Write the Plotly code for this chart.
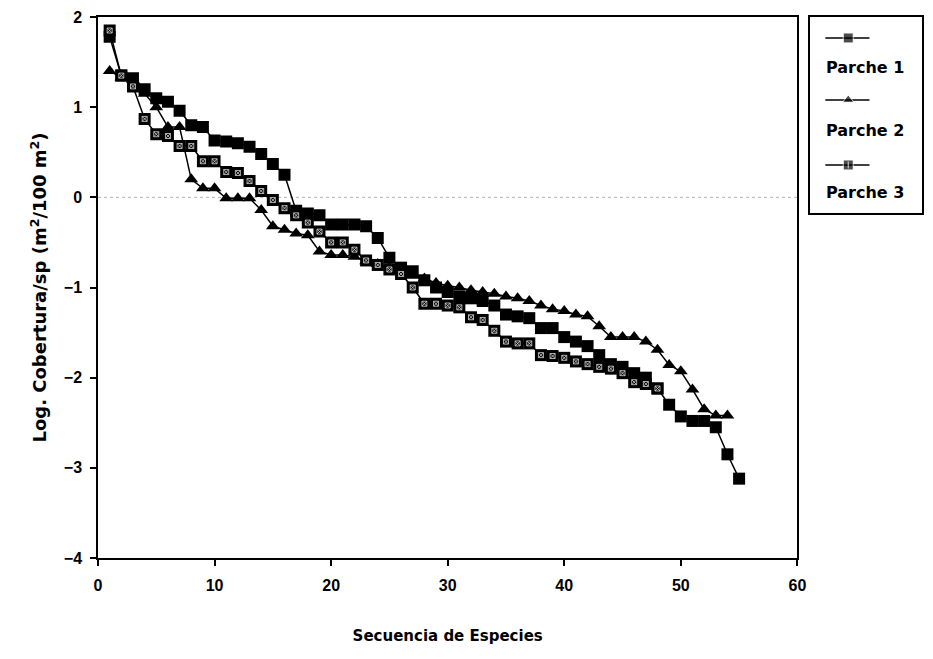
import plotly.graph_objects as go

# Species rank sequence and log cover per species for each patch
parche1_x = list(range(1, 56))
parche1_y = [1.78, 1.35, 1.32, 1.20, 1.10, 1.06, 0.96, 0.80, 0.78, 0.63,
             0.62, 0.60, 0.56, 0.48, 0.37, 0.25, -0.15, -0.18, -0.20, -0.30,
             -0.30, -0.30, -0.32, -0.45, -0.67, -0.78, -0.82, -0.92, -1.00, -1.05,
             -1.10, -1.12, -1.15, -1.20, -1.30, -1.32, -1.34, -1.45, -1.45, -1.55,
             -1.60, -1.65, -1.75, -1.85, -1.88, -1.95, -2.00, -2.12, -2.30, -2.43,
             -2.48, -2.48, -2.55, -2.85, -3.12]

parche2_x = list(range(1, 55))
parche2_y = [1.40, 1.33, 1.30, 1.15, 1.00, 0.78, 0.78, 0.20, 0.10, 0.10,
             -0.01, -0.01, -0.01, -0.14, -0.32, -0.36, -0.40, -0.42, -0.60, -0.64,
             -0.64, -0.66, -0.71, -0.74, -0.78, -0.82, -0.87, -0.90, -0.95, -0.98,
             -1.00, -1.03, -1.05, -1.07, -1.10, -1.12, -1.15, -1.20, -1.24, -1.26,
             -1.30, -1.32, -1.43, -1.55, -1.55, -1.55, -1.60, -1.69, -1.86, -1.93,
             -2.13, -2.35, -2.42, -2.42]

parche3_x = list(range(1, 49))
parche3_y = [1.85, 1.35, 1.23, 0.87, 0.70, 0.68, 0.57, 0.57, 0.40, 0.40,
             0.28, 0.27, 0.18, 0.07, -0.03, -0.12, -0.20, -0.28, -0.38, -0.50,
             -0.50, -0.58, -0.70, -0.75, -0.80, -0.85, -1.00, -1.18, -1.18, -1.20,
             -1.22, -1.33, -1.36, -1.48, -1.60, -1.62, -1.62, -1.75, -1.76, -1.78,
             -1.82, -1.85, -1.88, -1.90, -1.95, -2.05, -2.07, -2.12]

legend_names = ["Parche 1", "Parche 2", "Parche 3"]

x_ticks = [0, 10, 20, 30, 40, 50, 60]
y_ticks = [-4, -3, -2, -1, 0, 1, 2]

TICK_FONT = "Liberation Sans"
TEXT_FONT = "DejaVu Sans"
INK = "black"
HATCH = "#d8d8d8"

fig = go.Figure()

# Patch 1: solid squares
fig.add_trace(go.Scatter(
    x=parche1_x, y=parche1_y, mode="lines+markers", name=legend_names[0],
    line=dict(color=INK, width=1.5),
    marker=dict(symbol="square", size=12, color=INK),
    showlegend=False, xaxis="x", yaxis="y"))

# Patch 2: solid triangles
fig.add_trace(go.Scatter(
    x=parche2_x, y=parche2_y, mode="lines+markers", name=legend_names[1],
    line=dict(color=INK, width=1.5),
    marker=dict(symbol="triangle-up", size=12, color=INK),
    showlegend=False, xaxis="x", yaxis="y"))

# Patch 3: patterned squares (black square with a faint cross-hatch on top)
fig.add_trace(go.Scatter(
    x=parche3_x, y=parche3_y, mode="lines+markers", name=legend_names[2],
    line=dict(color=INK, width=1.5),
    marker=dict(symbol="square", size=12, color=INK),
    showlegend=False, xaxis="x", yaxis="y"))
fig.add_trace(go.Scatter(
    x=parche3_x, y=parche3_y, mode="markers", hoverinfo="skip",
    marker=dict(symbol="square-x-open", size=5, color=HATCH,
                line=dict(color=HATCH, width=0.8)),
    showlegend=False, xaxis="x", yaxis="y"))

# Boxed key to the right of the plot: sample line + marker, label underneath
key_rows = [0.893, 0.577, 0.245]
key_text_rows = [0.74, 0.423, 0.107]
key_symbols = ["square", "triangle-up", "square"]
for i, name in enumerate(legend_names):
    yk = key_rows[i]
    fig.add_trace(go.Scatter(
        x=[0.135, 0.34, 0.53], y=[yk, yk, yk], mode="lines+markers",
        line=dict(color=INK, width=1.5),
        marker=dict(symbol=key_symbols[i], size=[0, 10, 0], color=INK),
        showlegend=False, hoverinfo="skip", xaxis="x2", yaxis="y2"))
    fig.add_annotation(
        x=0.12, y=key_text_rows[i], xref="x2", yref="y2", text=name,
        showarrow=False, xanchor="left", yanchor="middle",
        font=dict(family=TEXT_FONT, size=16, color=INK, weight="bold"))
fig.add_trace(go.Scatter(
    x=[0.34], y=[key_rows[2]], mode="markers", hoverinfo="skip",
    marker=dict(symbol="line-ns", size=5, color=HATCH,
                line=dict(color=HATCH, width=1)),
    showlegend=False, xaxis="x2", yaxis="y2"))

# Faint dotted reference line at zero
fig.add_shape(type="line", xref="x domain", yref="y", x0=0, x1=1, y0=0, y1=0,
              line=dict(color="#b0b0b0", width=1, dash="dot"), layer="below")

W, H = 933, 659
ML, MB, MT = 98, 101, 17
paper_w = W - ML
paper_h = H - MT - MB
plot_right = 805
key_left, key_right = 818, 931
key_top, key_bottom = 17, 213

axis_common = dict(showline=True, linecolor=INK, linewidth=1.5, mirror=True,
                   showgrid=False, zeroline=False)

fig.update_layout(
    width=W, height=H,
    margin=dict(l=ML, r=0, t=MT, b=MB),
    paper_bgcolor="white", plot_bgcolor="white",
    font=dict(family=TEXT_FONT, color=INK),
    xaxis=dict(
        domain=[0, (plot_right - ML) / paper_w],
        range=[0, 60], tickvals=x_ticks, ticks="outside", ticklen=6,
        tickwidth=1.5, tickcolor=INK, ticklabelstandoff=6,
        tickfont=dict(family=TICK_FONT, size=16, color=INK, weight="bold"),
        title=dict(text="Secuencia de Especies", standoff=38,
                   font=dict(family=TEXT_FONT, size=15, color=INK, weight="bold")),
        **axis_common),
    yaxis=dict(
        domain=[0, 1],
        range=[-4, 2], tickvals=y_ticks, ticks="outside", ticklen=6,
        tickwidth=1.5, tickcolor=INK, ticklabelstandoff=5,
        tickfont=dict(family=TICK_FONT, size=16, color=INK, weight="bold"),
        title=dict(text="Log. Cobertura/sp (m<sup>2</sup>/100 m<sup>2</sup>)",
                   standoff=12,
                   font=dict(family=TEXT_FONT, size=18, color=INK, weight="bold")),
        **axis_common),
    xaxis2=dict(
        domain=[(key_left - ML) / paper_w, (key_right - ML) / paper_w],
        range=[0, 1], showticklabels=False, ticks="", anchor="y2",
        **axis_common),
    yaxis2=dict(
        domain=[(H - MB - key_bottom) / paper_h, (H - MB - key_top) / paper_h],
        range=[0, 1], showticklabels=False, ticks="", anchor="x2",
        **axis_common),
)

fig.write_html("out.html")
